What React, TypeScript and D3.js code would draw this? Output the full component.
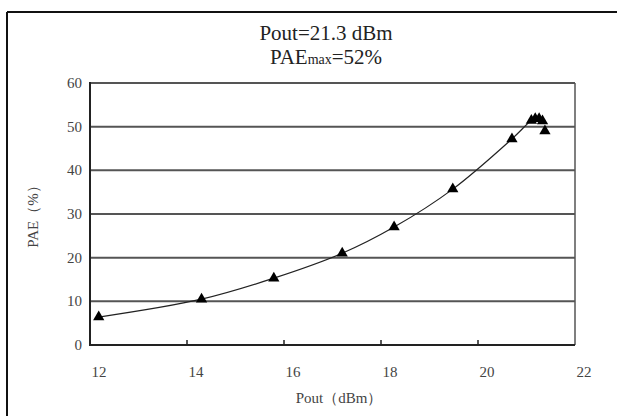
import React from "react";
import * as d3 from "d3";

const pout = [12.18, 14.3, 15.79, 17.2, 18.27, 19.48, 20.7, 21.1, 21.18, 21.26, 21.33, 21.38];
const pae = [6.4, 10.5, 15.3, 21.0, 27.0, 35.7, 47.2, 51.4, 51.8, 51.8, 51.3, 49.0];
const xTicks = [12, 14, 16, 18, 20, 22];
const yTicks = [0, 10, 20, 30, 40, 50, 60];
const titleLine1 = "Pout=21.3 dBm";
const titleMain = "PAE";
const titleSub = "max";
const titleTail = "=52%";
const xLabel = "Pout（dBm）";
const yLabel = "PAE（%）";

export default function App() {
  const W = 617, H = 416;
  const L = 90, R = 575, T = 83, B = 345;
  const x = d3.scaleLinear().domain([12, 22]).range([L, R]);
  const y = d3.scaleLinear().domain([0, 60]).range([B, T]);
  const pts: [number, number][] = pout.map((p, i) => [p, pae[i]]);
  const linePts = pts.slice(0, 9);
  const line = d3.line<[number, number]>().x(d => x(d[0])).y(d => y(d[1])).curve(d3.curveCatmullRom.alpha(0.5));
  const tri = d3.symbol().type(d3.symbolTriangle).size(55)();
  const font = "'Liberation Serif', 'DejaVu Serif', serif";
  return (
    <svg width={W} height={H} style={{ position: "absolute", left: 0, top: 0 }} fontFamily={font}>
      <rect x={0} y={0} width={W} height={H} fill="#fff" />
      <line x1={7} y1={12} x2={W} y2={12} stroke="#111" strokeWidth={2} />
      <line x1={7} y1={12} x2={7} y2={H} stroke="#111" strokeWidth={2} />
      <text x={326} y={40} textAnchor="middle" fontSize={21} fill="#222">{titleLine1}</text>
      <text x={326} y={64} textAnchor="middle" fontSize={21} fill="#222">
        {titleMain}
        <tspan fontSize={14}>{titleSub}</tspan>
        {titleTail}
      </text>
      {yTicks.filter(v => v > 0).map(v => (
        <line key={"g" + v} x1={L} x2={R} y1={y(v)} y2={y(v)} stroke="#555" strokeWidth={2} />
      ))}
      <line x1={R} x2={R} y1={T} y2={B} stroke="#555" strokeWidth={1.5} />
      <line x1={L} x2={R} y1={B} y2={B} stroke="#222" strokeWidth={2} />
      <line x1={L} x2={L} y1={T - 1} y2={B + 1} stroke="#222" strokeWidth={2} />
      {xTicks.slice(1, -1).map(v => (
        <line key={"t" + v} x1={x(v)} x2={x(v)} y1={B} y2={B - 5} stroke="#222" strokeWidth={1.5} />
      ))}
      {yTicks.map(v => (
        <text key={"y" + v} x={82} y={y(v) + 5} textAnchor="end" fontSize={15} fill="#444">{v}</text>
      ))}
      {xTicks.map(v => (
        <text key={"x" + v} x={x(v) + 9} y={377} textAnchor="middle" fontSize={15} fill="#444">{v}</text>
      ))}
      <text x={339} y={403} textAnchor="middle" fontSize={15} fill="#444">{xLabel}</text>
      <text transform={`translate(38,213) rotate(-90)`} textAnchor="middle" fontSize={15} fill="#444">{yLabel}</text>
      <path d={line(linePts) || ""} fill="none" stroke="#222" strokeWidth={1.2} />
      {pts.map((d, i) => (
        <path key={"m" + i} d={tri || ""} transform={`translate(${x(d[0])},${y(d[1])})`} fill="#000" />
      ))}
    </svg>
  );
}
